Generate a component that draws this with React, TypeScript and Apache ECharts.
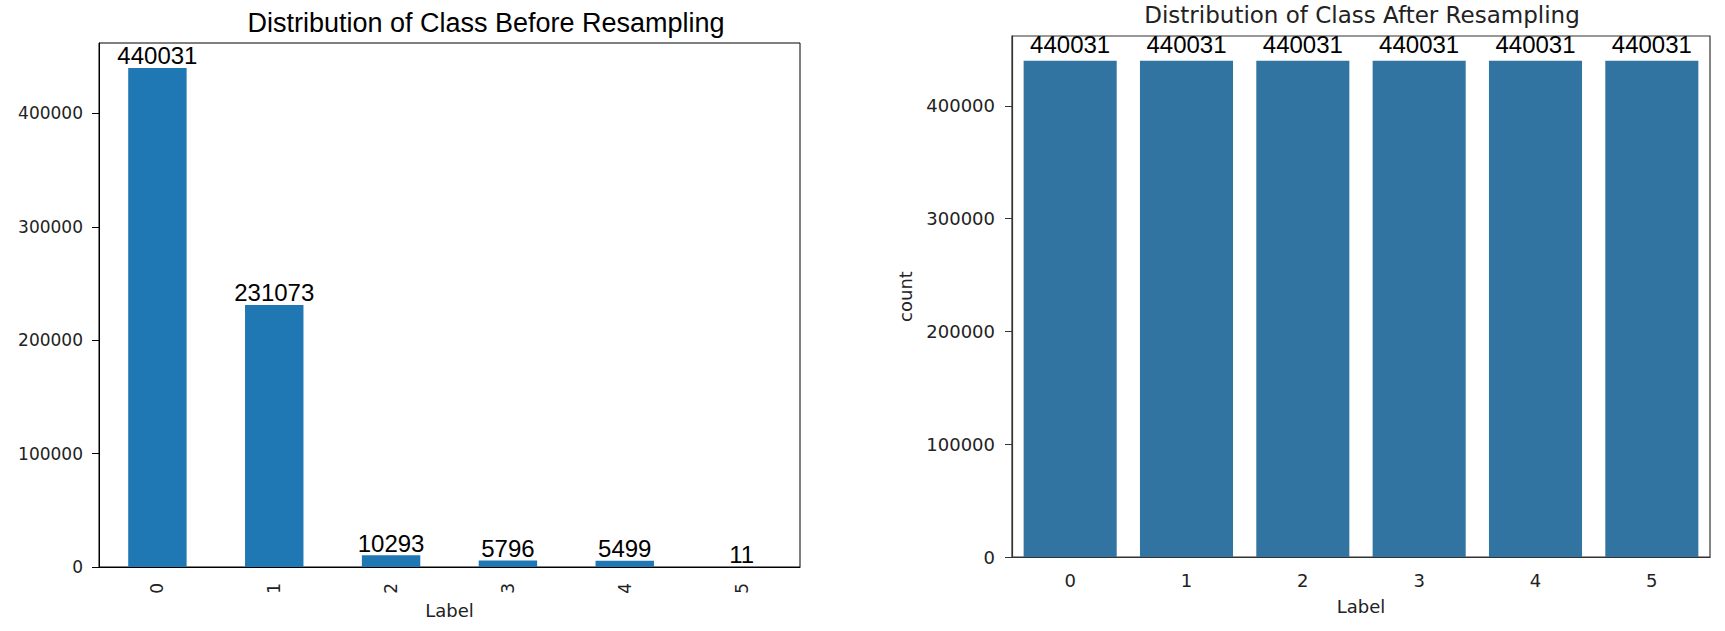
import React, { useEffect, useRef } from "react";
import * as echarts from "echarts";

const categories = ["0", "1", "2", "3", "4", "5"];
const beforeCounts = [440031, 231073, 10293, 5796, 5499, 11];
const afterCounts = [440031, 440031, 440031, 440031, 440031, 440031];
const yTickValues = [0, 100000, 200000, 300000, 400000];
const yAxisMax = 462032;

const leftTitle = "Distribution of Class Before Resampling";
const rightTitle = "Distribution of Class After Resampling";

export default function App() {
  const ref = useRef<HTMLDivElement>(null);
  useEffect(() => {
    if (!ref.current) return;
    const chart = echarts.init(ref.current, undefined, { renderer: "svg" });
    const dv = "DejaVu Sans";
    const ar = "Liberation Sans";
    const plain = (v: number) => String(v);
    chart.setOption({
      animation: false,
      backgroundColor: "#ffffff",
      graphic: [
        {
          type: "text",
          x: 486,
          y: 23,
          style: {
            text: leftTitle,
            font: `27px "${ar}"`,
            fill: "#000",
            align: "center",
            verticalAlign: "middle",
            textAlign: "center",
            textVerticalAlign: "middle",
          },
        },
        {
          type: "text",
          x: 1362,
          y: 15,
          style: {
            text: rightTitle,
            font: `23px "${dv}"`,
            fill: "#222",
            align: "center",
            verticalAlign: "middle",
            textAlign: "center",
            textVerticalAlign: "middle",
          },
        },
      ],
      grid: [
        {
          left: 99,
          top: 43,
          width: 701,
          height: 524,
          show: true,
          borderColor: "#000",
          borderWidth: 1,
          backgroundColor: "transparent",
        },
        {
          left: 1012,
          top: 36,
          width: 698,
          height: 521,
          show: true,
          borderColor: "#333",
          borderWidth: 1.2,
          backgroundColor: "transparent",
        },
      ],
      xAxis: [
        {
          type: "category",
          gridIndex: 0,
          data: categories,
          name: "Label",
          nameLocation: "middle",
          nameGap: 33,
          nameTextStyle: { fontFamily: dv, fontSize: 18, color: "#222" },
          axisLine: { lineStyle: { color: "#000", width: 1 } },
          axisTick: { alignWithLabel: true, length: 7, lineStyle: { color: "#000" } },
          axisLabel: {
            rotate: 90,
            margin: 16,
            fontFamily: dv,
            fontSize: 17,
            color: "#222",
          },
        },
        {
          type: "category",
          gridIndex: 1,
          data: categories,
          name: "Label",
          nameLocation: "middle",
          nameGap: 40,
          nameTextStyle: { fontFamily: dv, fontSize: 18, color: "#222" },
          axisLine: { lineStyle: { color: "#333", width: 1.2 } },
          axisTick: { alignWithLabel: true, length: 7, lineStyle: { color: "#333" } },
          axisLabel: {
            margin: 14,
            fontFamily: dv,
            fontSize: 18,
            color: "#222",
          },
        },
      ],
      yAxis: [
        {
          type: "value",
          gridIndex: 0,
          min: 0,
          max: yAxisMax,
          splitLine: { show: false },
          axisLine: { show: true, lineStyle: { color: "#000", width: 1 } },
          axisTick: { show: true, length: 7, customValues: yTickValues, lineStyle: { color: "#000" } },
          axisLabel: {
            customValues: yTickValues,
            formatter: plain,
            margin: 16,
            fontFamily: dv,
            fontSize: 17,
            color: "#222",
          },
        },
        {
          type: "value",
          gridIndex: 1,
          min: 0,
          max: yAxisMax,
          name: "count",
          nameLocation: "middle",
          nameGap: 98,
          nameTextStyle: { fontFamily: dv, fontSize: 18, color: "#222" },
          splitLine: { show: false },
          axisLine: { show: true, lineStyle: { color: "#333", width: 1.2 } },
          axisTick: { show: true, length: 7, customValues: yTickValues, lineStyle: { color: "#333" } },
          axisLabel: {
            customValues: yTickValues,
            formatter: plain,
            margin: 17,
            fontFamily: dv,
            fontSize: 18,
            color: "#222",
          },
        },
      ],
      series: [
        {
          type: "bar",
          xAxisIndex: 0,
          yAxisIndex: 0,
          data: beforeCounts,
          barWidth: "50%",
          itemStyle: { color: "#1f77b4" },
          label: {
            show: true,
            position: "top",
            distance: 0,
            formatter: "{c}",
            fontFamily: ar,
            fontSize: 24,
            color: "#000",
          },
        },
        {
          type: "bar",
          xAxisIndex: 1,
          yAxisIndex: 1,
          data: afterCounts,
          barWidth: "80%",
          itemStyle: { color: "#3274a1" },
          label: {
            show: true,
            position: "top",
            distance: 4,
            formatter: "{c}",
            fontFamily: ar,
            fontSize: 24,
            color: "#000",
          },
        },
      ],
    });
    return () => chart.dispose();
  }, []);
  return (
    <div
      ref={ref}
      style={{ position: "absolute", left: 0, top: 0, width: 1725, height: 631 }}
    />
  );
}
